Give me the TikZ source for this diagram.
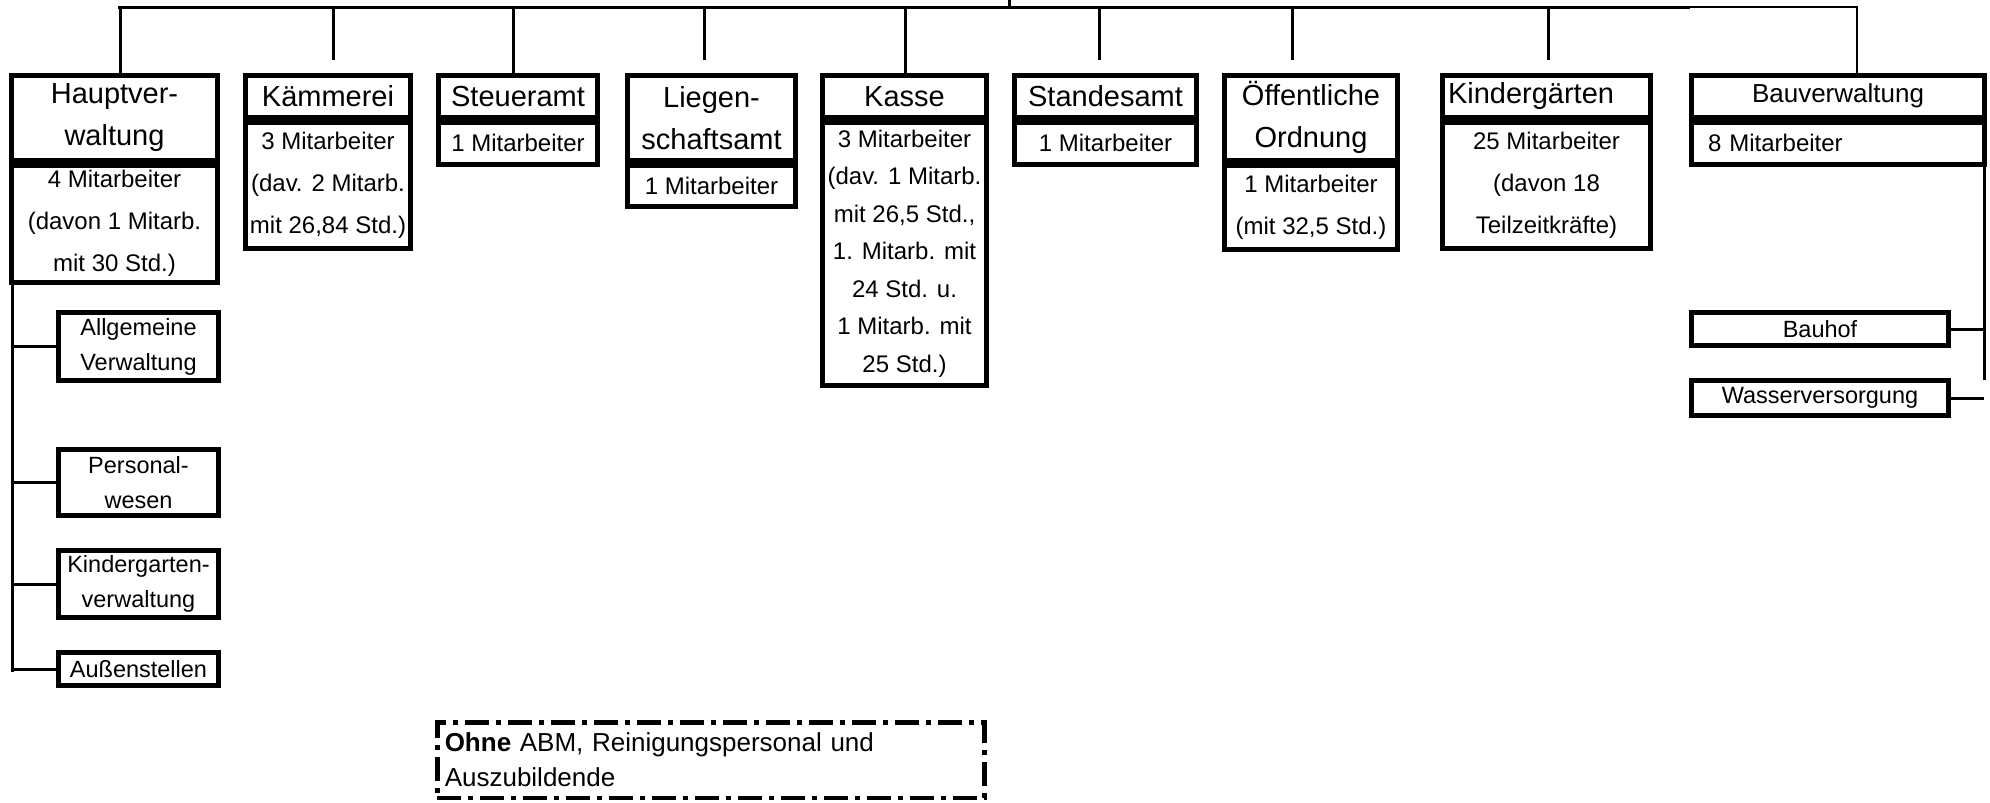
\documentclass[tikz,border=0pt]{standalone}
\usepackage{fontspec}
\setmainfont{Liberation Sans}
\begin{document}
\begin{tikzpicture}[x=1pt, y=-1pt,
	box/.style={draw, line width=5pt, inner sep=0pt, align=center},
	kopf/.style 2 args={box, minimum width=#1, minimum height=#2, font=\fontsize{29}{42}\selectfont},
	inhalt/.style 2 args={box, minimum width=#1, minimum height=#2, font=\fontsize{24}{42}\selectfont},
	unter/.style 2 args={box, minimum width=#1, minimum height=#2, anchor=north west, font=\fontsize{23.5}{35}\selectfont},
	linie/.style={line width=3pt}]
	\useasboundingbox (0,0) rectangle (1990,803);
	
	% Aemter
	\node[kopf={206pt}{84.5pt}, anchor=north west] (hv) at (9,73) {Hauptver-\\waltung};
	\node[inhalt={206pt}{117.5pt}, anchor=north] (hv2) at (hv.south) {4 Mitarbeiter\\(davon 1 Mitarb.\\mit 30 Std.)};
	\node[kopf={165pt}{41.5pt}, anchor=north west] (kae) at (243,73) {Kämmerei};
	\node[inhalt={165pt}{126.5pt}, anchor=north] (kae2) at (kae.south) {3 Mitarbeiter\\(dav. 2 Mitarb.\\mit 26,84 Std.)};
	\node[kopf={159pt}{41.5pt}, anchor=north west] (st) at (436,73) {Steueramt};
	\node[inhalt={159pt}{42.5pt}, anchor=north] (st2) at (st.south) {1 Mitarbeiter};
	\node[kopf={168pt}{84.5pt}, anchor=north west] (lg) at (625,73) {Liegen-\\schaftsamt};
	\node[inhalt={168pt}{41.5pt}, anchor=north] (lg2) at (lg.south) {1 Mitarbeiter};
	\node[kopf={164pt}{41.5pt}, anchor=north west] (ka) at (820,73) {Kasse};
	\node[inhalt={164pt}{263.5pt}, anchor=north, font=\fontsize{24}{37.5}\selectfont] (ka2) at (ka.south)
		{3 Mitarbeiter\\(dav. 1 Mitarb.\\mit 26,5 Std.,\\1. Mitarb. mit\\24 Std. u.\\1 Mitarb. mit\\25 Std.)};
	\node[kopf={182pt}{41.5pt}, anchor=north west] (sd) at (1012,73) {Standesamt};
	\node[inhalt={182pt}{42.5pt}, anchor=north] (sd2) at (sd.south) {1 Mitarbeiter};
	\node[kopf={173pt}{84.5pt}, anchor=north west] (oe) at (1222,73) {Öffentliche\\Ordnung};
	\node[inhalt={173pt}{84.5pt}, anchor=north] (oe2) at (oe.south) {1 Mitarbeiter\\(mit 32,5 Std.)};
	\node[kopf={208pt}{41.5pt}, text width=197pt, align=left, anchor=north west] (kg) at (1440,73) {Kindergärten};
	\node[inhalt={208pt}{126.5pt}, anchor=north] (kg2) at (kg.south) {25 Mitarbeiter\\(davon 18\\Teilzeitkräfte)};
	\node[kopf={293pt}{41.5pt}, font=\fontsize{26}{30}\selectfont, anchor=north west] (bv) at (1689,73) {Bauverwaltung};
	\node[inhalt={293pt}{42.5pt}, text width=260pt, align=left, anchor=north] (bv2) at (bv.south) {8 Mitarbeiter};
	
	% Unterbereiche
	\node[unter={160pt}{68pt}] (av) at (56,310) {Allgemeine\\Verwaltung};
	\node[unter={160pt}{66pt}] (pw) at (56,447) {Personal-\\wesen};
	\node[unter={160pt}{67pt}] (kv) at (56,548) {Kindergarten-\\verwaltung};
	\node[unter={160pt}{33pt}] (as) at (56,650) {Außenstellen};
	\node[unter={257pt}{33pt}] (bh) at (1689,310) {Bauhof};
	\node[unter={257pt}{35pt}] (ww) at (1689,378) {Wasserversorgung};
	
	\node[draw, line width=4.5pt, dash pattern=on 24pt off 7pt on 5pt off 7pt, inner xsep=7.5pt, inner ysep=0pt,
		text width=532pt, align=left, minimum height=75.5pt, anchor=north west,
		font=\fontsize{26}{35}\selectfont] (hinweis) at (435,720) {\textbf{Ohne} ABM, Reinigungspersonal und\\Auszubildende};
	
	% Linien
	\draw[linie] (1009,0) -- (1009,7);
	\draw[linie] (118,7) -- (1690,7);
	\draw[line width=2.5pt] (1690,7) -| (bv.north -| 1857,0);
	\foreach \n/\x in {hv/120, st/513, ka/905}
		\draw[linie] (\x,7) -- (\n.north -| \x,0);
	\foreach \x in {333, 704, 1099, 1292, 1548}
		\draw[linie] (\x,7) -- (\x,60);
	
	\coordinate (lv) at (12,672);
	\draw[linie] (hv2.south -| lv) -- (lv);
	\foreach \n in {av, pw, kv, as}
		\draw[linie] (\n.west -| lv) -- (\n.west);
	
	\coordinate (rv) at (1984,380);
	\draw[linie] (bv2.south -| rv) -- (rv);
	\draw[linie] (bh.east) -- (bh.east -| rv);
	\draw[linie] (ww.east) -- (ww.east -| rv);
\end{tikzpicture}
\end{document}
